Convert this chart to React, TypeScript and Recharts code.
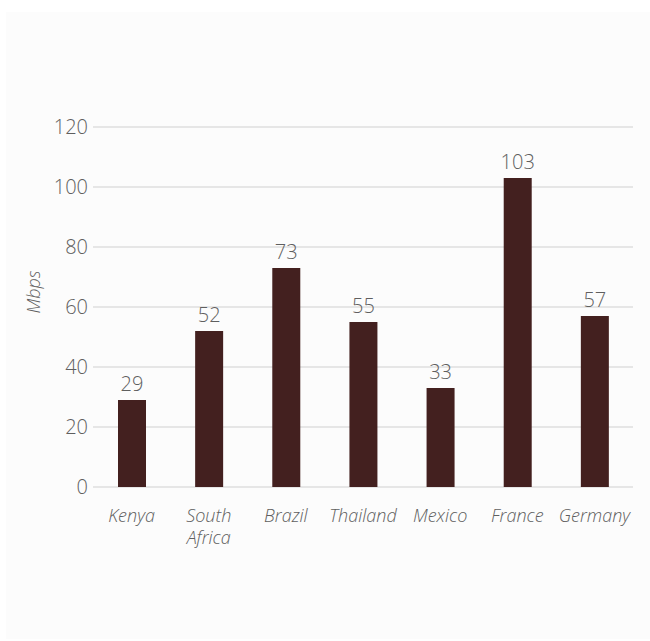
import { BarChart, Bar, XAxis, YAxis, CartesianGrid, LabelList } from "recharts";

const countries = ["Kenya", "South Africa", "Brazil", "Thailand", "Mexico", "France", "Germany"];
const speeds = [29, 52, 73, 55, 33, 103, 57];
const yTicks = [0, 20, 40, 60, 80, 100, 120];

const data = countries.map((c, i) => ({ country: c, mbps: speeds[i] }));

const FONT = "'Open Sans', Lato, sans-serif";
const TEXT = "#5f5f5f";

const CountryTick = ({ x, y, payload }: any) => {
  const words: string[] = payload.value === "South Africa" ? ["South", "Africa"] : [payload.value];
  return (
    <g>
      {words.map((w, i) => (
        <text
          key={w}
          x={x}
          y={y + 27 + i * 22}
          textAnchor="middle"
          fill={TEXT}
          fontSize={18}
          fontWeight={300}
          fontStyle="italic"
          fontFamily={FONT}
        >
          {w}
        </text>
      ))}
    </g>
  );
};

const AxisTitle = ({ viewBox }: any) => {
  const cx = viewBox.x + 33;
  const cy = viewBox.y + viewBox.height / 2 - 15;
  return (
    <text
      x={cx}
      y={cy}
      transform={`rotate(-90, ${cx}, ${cy})`}
      textAnchor="middle"
      dominantBaseline="central"
      fill={TEXT}
      fontSize={18}
      fontWeight={300}
      fontStyle="italic"
      fontFamily={FONT}
    >
      Mbps
    </text>
  );
};

export default function App() {
  return (
    <div style={{ position: "absolute", left: 0, top: 0, width: 650, height: 641, background: "#fff" }}>
      <div style={{ position: "absolute", left: 6, top: 12, width: 644, height: 627, background: "#fcfcfc" }} />
      <div style={{ position: "absolute", left: 0, top: 0 }}>
        <BarChart width={650} height={641} data={data} margin={{ top: 127, right: 17, bottom: 94, left: 0 }}>
          <CartesianGrid vertical={false} stroke="#e6e6e6" strokeWidth={2} />
          <XAxis
            dataKey="country"
            axisLine={false}
            tickLine={false}
            interval={0}
            height={60}
            tick={<CountryTick />}
          />
          <YAxis
            domain={[0, 120]}
            ticks={yTicks}
            axisLine={false}
            tickLine={false}
            tickSize={0}
            tickMargin={5}
            width={93}
            tick={{ fontSize: 20, fill: TEXT, fontFamily: FONT, fontWeight: 300 }}
            label={<AxisTitle />}
          />
          <Bar dataKey="mbps" fill="#43201f" barSize={28} isAnimationActive={false}>
            <LabelList
              dataKey="mbps"
              position="top"
              offset={9}
              fill={TEXT}
              fontSize={20}
              fontWeight={300}
              fontFamily={FONT}
            />
          </Bar>
        </BarChart>
      </div>
    </div>
  );
}
